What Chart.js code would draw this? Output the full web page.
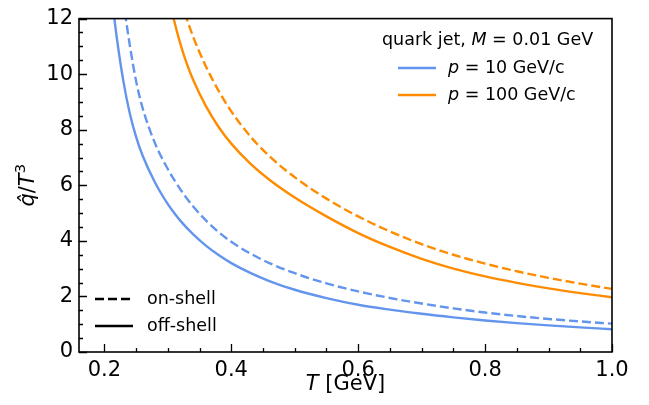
<!DOCTYPE html>
<html>
<head>
<meta charset="utf-8">
<script src="https://cdn.jsdelivr.net/npm/chart.js@4.4.1/dist/chart.umd.min.js"></script>
<style>
  html, body { margin: 0; padding: 0; background: #fff; }
</style>
</head>
<body>
<canvas id="qhat-chart" width="649" height="405"></canvas>
<script>
  const temperature = [0.21, 0.22, 0.23, 0.24, 0.25, 0.26, 0.28, 0.30, 0.31, 0.32, 0.33, 0.34, 0.36, 0.38,
    0.40, 0.43, 0.46, 0.50, 0.55, 0.60, 0.65, 0.70, 0.75, 0.80, 0.85, 0.90, 0.95, 1.00];

  // p = 10 GeV/c
  const p10OffShell = [13.09, 11.24, 9.74, 8.59, 7.74, 7.08, 6.09, 5.32, 5.005, 4.72, 4.465, 4.235, 3.83, 3.49,
    3.2, 2.85, 2.555, 2.24, 1.94, 1.70, 1.525, 1.375, 1.2475, 1.135, 1.04, 0.9575, 0.885, 0.82];
  const p10OnShell = [null, 14.55, 12.65, 11.05, 9.75, 8.8, 7.5, 6.585, 6.195, 5.845, 5.525, 5.235, 4.735, 4.315,
    3.965, 3.545, 3.2, 2.835, 2.47, 2.18, 1.945, 1.745, 1.57, 1.42, 1.295, 1.19, 1.10, 1.02];

  // p = 100 GeV/c
  const p100OffShell = [null, null, null, null, null, null, null, 12.95, 11.92, 11.07, 10.37, 9.79, 8.85, 8.1,
    7.5, 6.78, 6.2, 5.56, 4.88, 4.28, 3.78, 3.35, 3.0, 2.72, 2.49, 2.29, 2.12, 1.97];
  const p100OnShell = [null, null, null, null, null, null, null, null, 13.56, 12.72, 11.98, 11.34, 10.28, 9.4,
    8.66, 7.76, 7.05, 6.29, 5.52, 4.88, 4.34, 3.88, 3.5, 3.18, 2.905, 2.67, 2.46, 2.27];

  const xTicks = [0.2, 0.4, 0.6, 0.8, 1.0];
  const yTicks = [0, 2, 4, 6, 8, 10, 12];

  const BLUE = '#6495ED';
  const ORANGE = '#FF8C00';
  const FONT = "'DejaVu Sans', sans-serif";
  const DASH = [9, 4];
  const LEGEND_SIZE = 17.5;
  const AXIS_SIZE = 21;

  const toPoints = (vals) => temperature.map((t, i) => ({x: t, y: vals[i]}));

  const line = (label, vals, color, dashed) => ({
    label: label,
    data: toPoints(vals),
    borderColor: color,
    borderWidth: 2.4,
    borderDash: dashed ? DASH : [],
    pointRadius: 0,
    cubicInterpolationMode: 'monotone',
    fill: false,
  });

  // draw a run of text pieces, some italic
  function drawParts(ctx, parts, x, y, size) {
    parts.forEach(p => {
      const s = p.sup ? size * 0.7 : size;
      ctx.font = (p.italic ? 'oblique ' : '') + s + 'px ' + FONT;
      ctx.fillText(p.text, x, p.sup ? y - size * 0.35 : y);
      x += ctx.measureText(p.text).width;
    });
    return x;
  }
  function partsWidth(ctx, parts, size) {
    let w = 0;
    parts.forEach(p => {
      const s = p.sup ? size * 0.7 : size;
      ctx.font = (p.italic ? 'oblique ' : '') + s + 'px ' + FONT;
      w += ctx.measureText(p.text).width;
    });
    return w;
  }

  const decorations = {
    id: 'decorations',
    afterDraw(chart) {
      const {ctx, chartArea: a, scales: {x, y}} = chart;
      ctx.save();
      ctx.strokeStyle = '#000';
      ctx.fillStyle = '#000';

      // inward ticks, bottom and left
      ctx.lineWidth = 1.3;
      ctx.beginPath();
      for (let v = 0.2; v <= 1.0001; v += 0.05) {
        const px = Math.round(x.getPixelForValue(v)) + 0.5;
        const major = xTicks.some(t => Math.abs(t - v) < 1e-6);
        ctx.moveTo(px, a.bottom);
        ctx.lineTo(px, a.bottom - (major ? 8 : 4));
      }
      for (let v = 0; v <= 12.0001; v += 0.5) {
        const py = Math.round(y.getPixelForValue(v)) + 0.5;
        const major = yTicks.includes(v);
        ctx.moveTo(a.left, py);
        ctx.lineTo(a.left + (major ? 8 : 4), py);
      }
      ctx.stroke();

      // frame
      ctx.lineWidth = 1.6;
      ctx.strokeRect(a.left, a.top, a.right - a.left, a.bottom - a.top);

      ctx.textBaseline = 'middle';
      ctx.textAlign = 'left';

      // colour legend (top right)
      drawParts(ctx, [{text: 'quark jet, '}, {text: 'M', italic: true}, {text: ' = 0.01 GeV'}], 382, 40, LEGEND_SIZE);
      ctx.lineWidth = 2.4;
      ctx.setLineDash([]);
      [[BLUE, 68, '10'], [ORANGE, 95, '100']].forEach(([c, yy, p]) => {
        ctx.strokeStyle = c;
        ctx.beginPath();
        ctx.moveTo(398, yy);
        ctx.lineTo(436, yy);
        ctx.stroke();
        drawParts(ctx, [{text: 'p', italic: true}, {text: ' = ' + p + ' GeV/c'}], 448, yy, LEGEND_SIZE);
      });

      // line style legend (bottom left)
      ctx.strokeStyle = '#000';
      [[DASH, 299, 'on-shell'], [[], 326, 'off-shell']].forEach(([d, yy, t]) => {
        ctx.setLineDash(d);
        ctx.beginPath();
        ctx.moveTo(95, yy);
        ctx.lineTo(133, yy);
        ctx.stroke();
        drawParts(ctx, [{text: t}], 147, yy, LEGEND_SIZE);
      });
      ctx.setLineDash([]);

      // axis titles
      const xt = [{text: 'T', italic: true}, {text: ' [GeV]'}];
      drawParts(ctx, xt, (a.left + a.right) / 2 - partsWidth(ctx, xt, AXIS_SIZE) / 2, 385, AXIS_SIZE);

      const yt = [{text: 'q\u0302', italic: true}, {text: '/'}, {text: 'T', italic: true}, {text: '3', sup: true}];
      ctx.translate(29, (a.top + a.bottom) / 2);
      ctx.rotate(-Math.PI / 2);
      drawParts(ctx, yt, -partsWidth(ctx, yt, AXIS_SIZE) / 2, 0, AXIS_SIZE);

      ctx.restore();
    }
  };

  const config = {
    type: 'line',
    data: {
      datasets: [
        line('p = 10 GeV/c, off-shell', p10OffShell, BLUE, false),
        line('p = 10 GeV/c, on-shell', p10OnShell, BLUE, true),
        line('p = 100 GeV/c, off-shell', p100OffShell, ORANGE, false),
        line('p = 100 GeV/c, on-shell', p100OnShell, ORANGE, true),
      ]
    },
    options: {
      responsive: false,
      animation: false,
      layout: {
        padding: {left: 0, right: 37, top: 15, bottom: 0}
      },
      scales: {
        x: {
          type: 'linear',
          min: 0.16,
          max: 1.0,
          afterBuildTicks: (s) => { s.ticks = xTicks.map(v => ({value: v})); },
          afterFit: (s) => { s.height = 53; },
          grid: {display: false, drawTicks: false},
          border: {display: false},
          ticks: {
            padding: 6,
            color: '#000',
            font: {family: FONT, size: AXIS_SIZE},
            maxRotation: 0,
            callback: (v) => v.toFixed(1),
          }
        },
        y: {
          min: 0,
          max: 12,
          afterBuildTicks: (s) => { s.ticks = yTicks.map(v => ({value: v})); },
          afterFit: (s) => { s.width = 79; },
          grid: {display: false, drawTicks: false},
          border: {display: false},
          ticks: {
            padding: 6,
            color: '#000',
            font: {family: FONT, size: AXIS_SIZE},
          }
        }
      },
      plugins: {
        legend: {display: false},
        tooltip: {enabled: false}
      }
    },
    plugins: [decorations]
  };

  const qhatChart = new Chart(document.getElementById('qhat-chart'), config);
</script>
</body>
</html>
